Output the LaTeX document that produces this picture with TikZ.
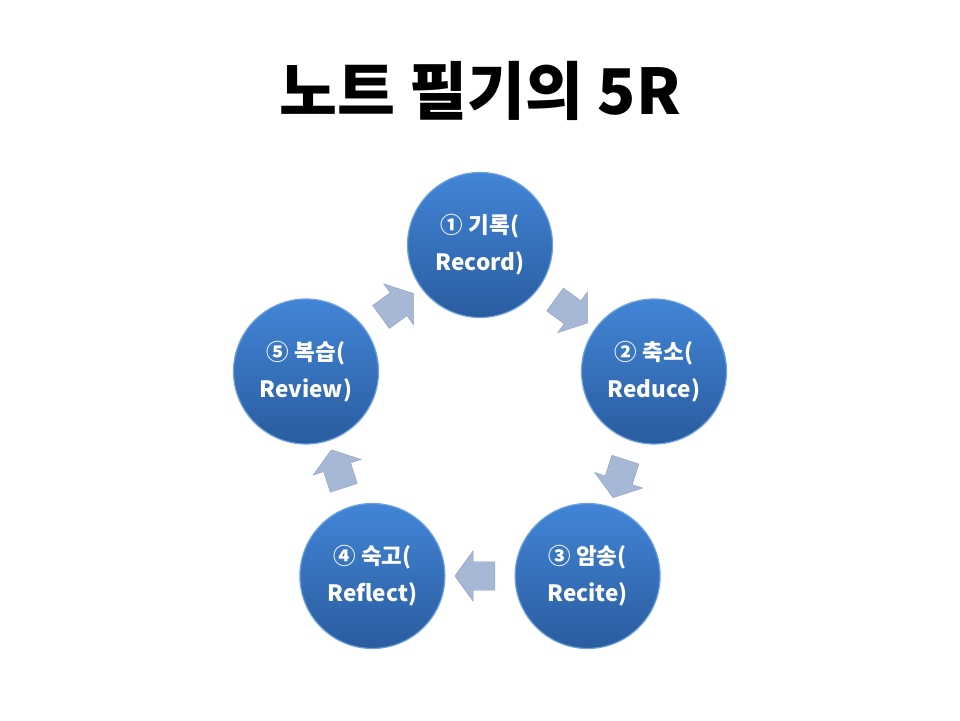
\documentclass[tikz,border=0pt]{standalone}
\usepackage{fontspec}
\setmainfont{Noto Sans CJK KR}
\usepackage{tikz}
\usetikzlibrary{positioning,shapes.arrows}

\definecolor{steptop}{HTML}{4285D6}
\definecolor{stepbot}{HTML}{2A5C9F}
\definecolor{stepedge}{HTML}{6FA3E0}
\definecolor{flowfill}{HTML}{A7B7D6}
\definecolor{flowedge}{HTML}{8A9DC2}

\begin{document}
\begin{tikzpicture}[x=1pt,y=1pt]
  \tikzstyle{stage}=[circle,minimum size=145pt,inner sep=0pt,align=center,
    top color=steptop,bottom color=stepbot,draw=stepedge,line width=1.2pt,
    text=white,font=\bfseries\fontsize{22.5}{37}\selectfont]
  \tikzstyle{flow}=[single arrow,minimum width=50pt,minimum height=40pt,
    single arrow head extend=11pt,single arrow tip angle=108,
    inner xsep=0pt,inner ysep=14pt,
    fill=flowfill,draw=flowedge,line width=0.4pt,sloped,allow upside down]

  \useasboundingbox (0,0) rectangle (960,720);

  % title
  \node[font=\bfseries\fontsize{63}{70}\selectfont] (title) at (480,629) {노트 필기의 5R};

  % the five steps
  \node[stage] (rec) at (480,475) {① 기록(\\Record)};
  \node[stage] (red) at (654,348.5) {② 축소(\\Reduce)};
  \node[stage] (rct) at (587.6,144) {③ 암송(\\Recite)};
  \node[stage] (rfl) at (372.4,144) {④ 숙고(\\Reflect)};
  \node[stage] (rev) at (306,348.5) {⑤ 복습(\\Review)};

  % arrows between them
  \path (rec) -- (red) node[flow,midway] (f1) {};
  \path (red) -- (rct) node[flow,midway] (f2) {};
  \path (rct) -- (rfl) node[flow,midway] (f3) {};
  \path (rfl) -- (rev) node[flow,midway] (f4) {};
  \path (rev) -- (rec) node[flow,midway] (f5) {};
\end{tikzpicture}
\end{document}
